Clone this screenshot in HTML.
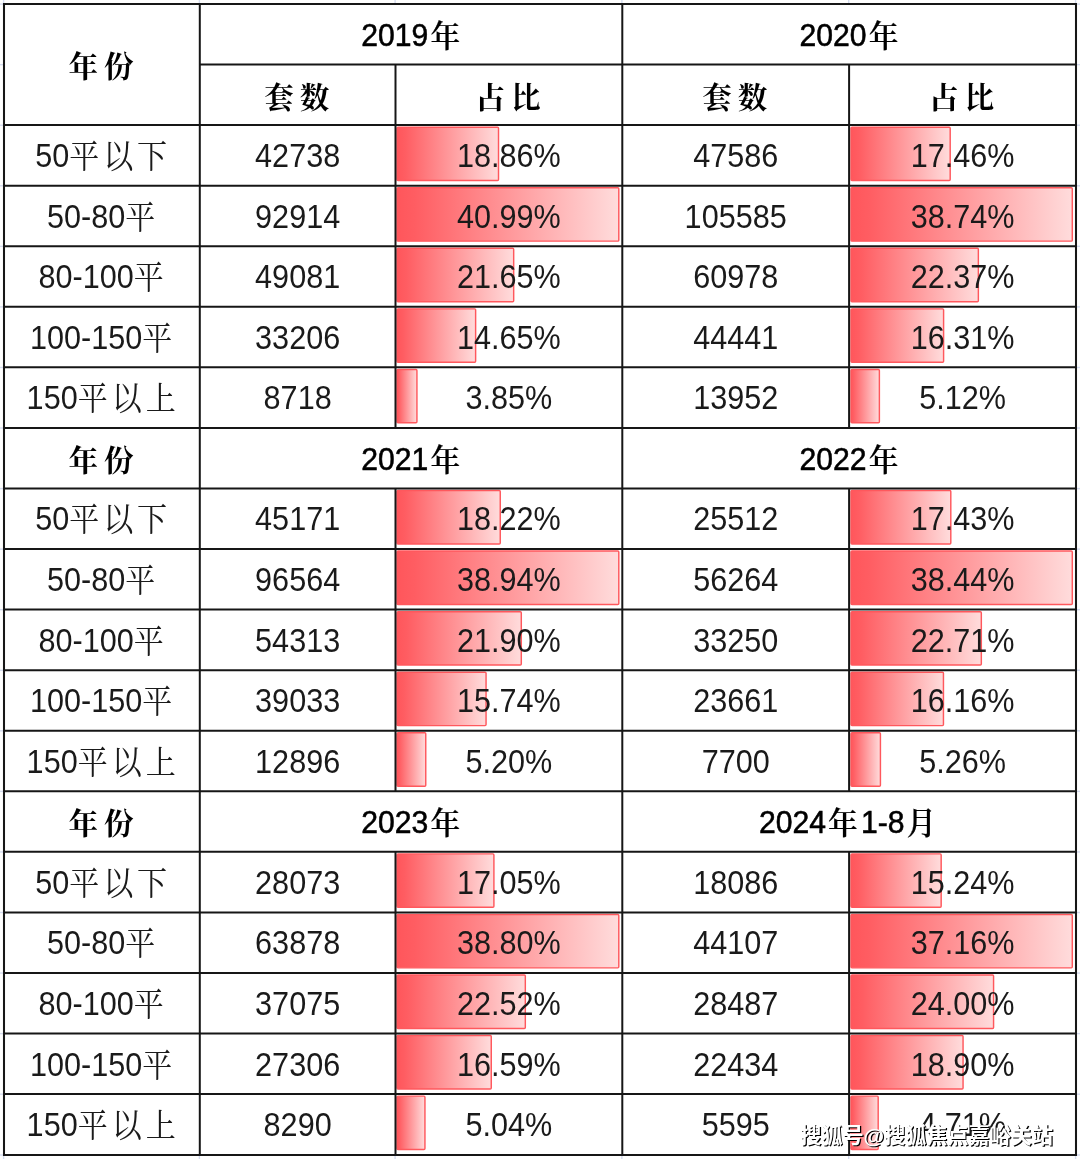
<!DOCTYPE html>
<html lang="zh-CN"><head><meta charset="utf-8"><title>面积段成交套数占比</title>
<style>
html,body{margin:0;padding:0;background:#fff;}
body{width:1080px;height:1159px;overflow:hidden;position:relative;}
svg{display:block;position:absolute;left:0;top:0;}
.b{font-family:"Liberation Sans", "Noto Serif CJK SC", sans-serif;font-size:33px;fill:#1a1a1a;}
.cb{font-size:32.4px;letter-spacing:4.2px;}
.ch{font-size:31px;letter-spacing:3.2px;font-weight:600;stroke-width:0.2px;}
.h{font-family:"Liberation Sans", "Noto Serif CJK SC", serif;font-size:31.4px;font-weight:400;fill:#000;stroke:#000;stroke-width:0.55px;}
.hc{font-family:"Liberation Sans", "Noto Serif CJK SC", serif;font-size:29.6px;font-weight:700;fill:#000;letter-spacing:5.9px;}
.wm{font-family:"Liberation Sans", "Noto Sans CJK SC", sans-serif;font-size:21.1px;font-weight:700;fill:#fff;}
.wms{font-family:"Liberation Sans", "Noto Sans CJK SC", sans-serif;font-size:21.1px;font-weight:700;fill:#000;}
.g line{stroke:#161616;stroke-width:2;}
.t line{stroke:#d5dcef;stroke-width:1.4;}
</style></head><body>
<svg width="1080" height="1159" viewBox="0 0 1080 1159">
<defs><linearGradient id="rg" x1="0" y1="0" x2="1" y2="0"><stop offset="0" stop-color="#ff565b"/><stop offset="0.08" stop-color="#ff5d62"/><stop offset="1" stop-color="#ffdcdc"/></linearGradient></defs>
<rect x="0" y="0" width="1080" height="1159" fill="#fff"/>
<g class="t">
<line x1="0" y1="4.10" x2="3" y2="4.10"/>
<line x1="1077" y1="4.10" x2="1080" y2="4.10"/>
<line x1="0" y1="64.66" x2="3" y2="64.66"/>
<line x1="1077" y1="64.66" x2="1080" y2="64.66"/>
<line x1="0" y1="125.22" x2="3" y2="125.22"/>
<line x1="1077" y1="125.22" x2="1080" y2="125.22"/>
<line x1="0" y1="185.78" x2="3" y2="185.78"/>
<line x1="1077" y1="185.78" x2="1080" y2="185.78"/>
<line x1="0" y1="246.34" x2="3" y2="246.34"/>
<line x1="1077" y1="246.34" x2="1080" y2="246.34"/>
<line x1="0" y1="306.90" x2="3" y2="306.90"/>
<line x1="1077" y1="306.90" x2="1080" y2="306.90"/>
<line x1="0" y1="367.46" x2="3" y2="367.46"/>
<line x1="1077" y1="367.46" x2="1080" y2="367.46"/>
<line x1="0" y1="428.02" x2="3" y2="428.02"/>
<line x1="1077" y1="428.02" x2="1080" y2="428.02"/>
<line x1="0" y1="488.58" x2="3" y2="488.58"/>
<line x1="1077" y1="488.58" x2="1080" y2="488.58"/>
<line x1="0" y1="549.14" x2="3" y2="549.14"/>
<line x1="1077" y1="549.14" x2="1080" y2="549.14"/>
<line x1="0" y1="609.70" x2="3" y2="609.70"/>
<line x1="1077" y1="609.70" x2="1080" y2="609.70"/>
<line x1="0" y1="670.26" x2="3" y2="670.26"/>
<line x1="1077" y1="670.26" x2="1080" y2="670.26"/>
<line x1="0" y1="730.82" x2="3" y2="730.82"/>
<line x1="1077" y1="730.82" x2="1080" y2="730.82"/>
<line x1="0" y1="791.38" x2="3" y2="791.38"/>
<line x1="1077" y1="791.38" x2="1080" y2="791.38"/>
<line x1="0" y1="851.94" x2="3" y2="851.94"/>
<line x1="1077" y1="851.94" x2="1080" y2="851.94"/>
<line x1="0" y1="912.50" x2="3" y2="912.50"/>
<line x1="1077" y1="912.50" x2="1080" y2="912.50"/>
<line x1="0" y1="973.06" x2="3" y2="973.06"/>
<line x1="1077" y1="973.06" x2="1080" y2="973.06"/>
<line x1="0" y1="1033.62" x2="3" y2="1033.62"/>
<line x1="1077" y1="1033.62" x2="1080" y2="1033.62"/>
<line x1="0" y1="1094.18" x2="3" y2="1094.18"/>
<line x1="1077" y1="1094.18" x2="1080" y2="1094.18"/>
<line x1="0" y1="1155.00" x2="3" y2="1155.00"/>
<line x1="1077" y1="1155.00" x2="1080" y2="1155.00"/>
<line x1="3.60" y1="0" x2="3.60" y2="3"/>
<line x1="3.60" y1="1156" x2="3.60" y2="1159"/>
<line x1="199.40" y1="0" x2="199.40" y2="3"/>
<line x1="199.40" y1="1156" x2="199.40" y2="1159"/>
<line x1="395.10" y1="0" x2="395.10" y2="3"/>
<line x1="395.10" y1="1156" x2="395.10" y2="1159"/>
<line x1="621.90" y1="0" x2="621.90" y2="3"/>
<line x1="621.90" y1="1156" x2="621.90" y2="1159"/>
<line x1="848.70" y1="0" x2="848.70" y2="3"/>
<line x1="848.70" y1="1156" x2="848.70" y2="1159"/>
<line x1="1075.60" y1="0" x2="1075.60" y2="3"/>
<line x1="1075.60" y1="1156" x2="1075.60" y2="1159"/>
</g>
<rect x="397.00" y="127.17" width="101.51" height="53.40" fill="url(#rg)" stroke="#ff585d" stroke-width="1.45" rx="1" ry="1"/>
<rect x="851.00" y="127.17" width="99.19" height="53.40" fill="url(#rg)" stroke="#ff585d" stroke-width="1.45" rx="1" ry="1"/>
<rect x="397.00" y="187.73" width="221.80" height="53.40" fill="url(#rg)" stroke="#ff585d" stroke-width="1.45" rx="1" ry="1"/>
<rect x="851.00" y="187.73" width="221.30" height="53.40" fill="url(#rg)" stroke="#ff585d" stroke-width="1.45" rx="1" ry="1"/>
<rect x="397.00" y="248.29" width="116.68" height="53.40" fill="url(#rg)" stroke="#ff585d" stroke-width="1.45" rx="1" ry="1"/>
<rect x="851.00" y="248.29" width="127.36" height="53.40" fill="url(#rg)" stroke="#ff585d" stroke-width="1.45" rx="1" ry="1"/>
<rect x="397.00" y="308.85" width="78.63" height="53.40" fill="url(#rg)" stroke="#ff585d" stroke-width="1.45" rx="1" ry="1"/>
<rect x="851.00" y="308.85" width="92.59" height="53.40" fill="url(#rg)" stroke="#ff585d" stroke-width="1.45" rx="1" ry="1"/>
<rect x="397.00" y="369.41" width="19.93" height="53.40" fill="url(#rg)" stroke="#ff585d" stroke-width="1.45" rx="1" ry="1"/>
<rect x="851.00" y="369.41" width="28.38" height="53.40" fill="url(#rg)" stroke="#ff585d" stroke-width="1.45" rx="1" ry="1"/>
<rect x="397.00" y="490.53" width="103.25" height="53.40" fill="url(#rg)" stroke="#ff585d" stroke-width="1.45" rx="1" ry="1"/>
<rect x="851.00" y="490.53" width="99.80" height="53.40" fill="url(#rg)" stroke="#ff585d" stroke-width="1.45" rx="1" ry="1"/>
<rect x="397.00" y="551.09" width="221.80" height="53.40" fill="url(#rg)" stroke="#ff585d" stroke-width="1.45" rx="1" ry="1"/>
<rect x="851.00" y="551.09" width="221.30" height="53.40" fill="url(#rg)" stroke="#ff585d" stroke-width="1.45" rx="1" ry="1"/>
<rect x="397.00" y="611.65" width="124.30" height="53.40" fill="url(#rg)" stroke="#ff585d" stroke-width="1.45" rx="1" ry="1"/>
<rect x="851.00" y="611.65" width="130.33" height="53.40" fill="url(#rg)" stroke="#ff585d" stroke-width="1.45" rx="1" ry="1"/>
<rect x="397.00" y="672.21" width="89.06" height="53.40" fill="url(#rg)" stroke="#ff585d" stroke-width="1.45" rx="1" ry="1"/>
<rect x="851.00" y="672.21" width="92.45" height="53.40" fill="url(#rg)" stroke="#ff585d" stroke-width="1.45" rx="1" ry="1"/>
<rect x="397.00" y="732.77" width="28.75" height="53.40" fill="url(#rg)" stroke="#ff585d" stroke-width="1.45" rx="1" ry="1"/>
<rect x="851.00" y="732.77" width="29.42" height="53.40" fill="url(#rg)" stroke="#ff585d" stroke-width="1.45" rx="1" ry="1"/>
<rect x="397.00" y="853.89" width="96.91" height="53.40" fill="url(#rg)" stroke="#ff585d" stroke-width="1.45" rx="1" ry="1"/>
<rect x="851.00" y="853.89" width="90.17" height="53.40" fill="url(#rg)" stroke="#ff585d" stroke-width="1.45" rx="1" ry="1"/>
<rect x="397.00" y="914.45" width="221.80" height="53.40" fill="url(#rg)" stroke="#ff585d" stroke-width="1.45" rx="1" ry="1"/>
<rect x="851.00" y="914.45" width="221.30" height="53.40" fill="url(#rg)" stroke="#ff585d" stroke-width="1.45" rx="1" ry="1"/>
<rect x="397.00" y="975.01" width="128.32" height="53.40" fill="url(#rg)" stroke="#ff585d" stroke-width="1.45" rx="1" ry="1"/>
<rect x="851.00" y="975.01" width="142.57" height="53.40" fill="url(#rg)" stroke="#ff585d" stroke-width="1.45" rx="1" ry="1"/>
<rect x="397.00" y="1035.57" width="94.26" height="53.40" fill="url(#rg)" stroke="#ff585d" stroke-width="1.45" rx="1" ry="1"/>
<rect x="851.00" y="1035.57" width="112.06" height="53.40" fill="url(#rg)" stroke="#ff585d" stroke-width="1.45" rx="1" ry="1"/>
<rect x="397.00" y="1096.13" width="27.94" height="53.40" fill="url(#rg)" stroke="#ff585d" stroke-width="1.45" rx="1" ry="1"/>
<rect x="851.00" y="1096.13" width="27.18" height="53.40" fill="url(#rg)" stroke="#ff585d" stroke-width="1.45" rx="1" ry="1"/>
<g class="g">
<line x1="3.00" y1="4.00" x2="1077.00" y2="4.00" style="stroke-width:2.05"/>
<line x1="199.80" y1="64.56" x2="1077.00" y2="64.56"/>
<line x1="3.00" y1="125.12" x2="1077.00" y2="125.12"/>
<line x1="3.00" y1="185.68" x2="1077.00" y2="185.68"/>
<line x1="3.00" y1="246.24" x2="1077.00" y2="246.24"/>
<line x1="3.00" y1="306.80" x2="1077.00" y2="306.80"/>
<line x1="3.00" y1="367.36" x2="1077.00" y2="367.36"/>
<line x1="3.00" y1="427.92" x2="1077.00" y2="427.92"/>
<line x1="3.00" y1="488.48" x2="1077.00" y2="488.48"/>
<line x1="3.00" y1="549.04" x2="1077.00" y2="549.04"/>
<line x1="3.00" y1="609.60" x2="1077.00" y2="609.60"/>
<line x1="3.00" y1="670.16" x2="1077.00" y2="670.16"/>
<line x1="3.00" y1="730.72" x2="1077.00" y2="730.72"/>
<line x1="3.00" y1="791.28" x2="1077.00" y2="791.28"/>
<line x1="3.00" y1="851.84" x2="1077.00" y2="851.84"/>
<line x1="3.00" y1="912.40" x2="1077.00" y2="912.40"/>
<line x1="3.00" y1="972.96" x2="1077.00" y2="972.96"/>
<line x1="3.00" y1="1033.52" x2="1077.00" y2="1033.52"/>
<line x1="3.00" y1="1094.08" x2="1077.00" y2="1094.08"/>
<line x1="3.00" y1="1154.90" x2="1077.00" y2="1154.90" style="stroke-width:2.05"/>
<line x1="4.00" y1="3.00" x2="4.00" y2="1155.90" style="stroke-width:2.05"/>
<line x1="199.80" y1="3.00" x2="199.80" y2="1155.90"/>
<line x1="622.30" y1="3.00" x2="622.30" y2="1155.90"/>
<line x1="1076.00" y1="3.00" x2="1076.00" y2="1155.90" style="stroke-width:2.05"/>
<line x1="395.50" y1="64.56" x2="395.50" y2="125.12"/>
<line x1="849.10" y1="64.56" x2="849.10" y2="125.12"/>
<line x1="395.50" y1="125.12" x2="395.50" y2="427.92"/>
<line x1="849.10" y1="125.12" x2="849.10" y2="427.92"/>
<line x1="395.50" y1="488.48" x2="395.50" y2="791.28"/>
<line x1="849.10" y1="488.48" x2="849.10" y2="791.28"/>
<line x1="395.50" y1="851.84" x2="395.50" y2="1154.90"/>
<line x1="849.10" y1="851.84" x2="849.10" y2="1154.90"/>
</g>
<text class="hc" transform="translate(103.90 77.36) scale(1.000 1)" text-anchor="middle">年份</text>
<text class="h" transform="translate(412.25 45.88) scale(0.960 1)" text-anchor="middle">2019<tspan class="ch" dx="2.2" dy="1">年</tspan></text>
<text class="h" transform="translate(850.55 45.88) scale(0.960 1)" text-anchor="middle">2020<tspan class="ch" dx="2.2" dy="1">年</tspan></text>
<text class="hc" transform="translate(299.65 107.64) scale(1.000 1)" text-anchor="middle">套数</text>
<text class="hc" transform="translate(510.90 107.64) scale(1.000 1)" text-anchor="middle">占比</text>
<text class="hc" transform="translate(737.70 107.64) scale(1.000 1)" text-anchor="middle">套数</text>
<text class="hc" transform="translate(964.55 107.64) scale(1.000 1)" text-anchor="middle">占比</text>
<text class="b" transform="translate(103.10 167.10) scale(0.928 1)" text-anchor="middle">50<tspan class="cb" dy="1">平以下</tspan></text>
<text class="b" transform="translate(297.65 167.10) scale(0.928 1)" text-anchor="middle">42738</text>
<text class="b" transform="translate(508.90 167.10) scale(0.928 1)" text-anchor="middle">18.86%</text>
<text class="b" transform="translate(735.70 167.10) scale(0.928 1)" text-anchor="middle">47586</text>
<text class="b" transform="translate(962.55 167.10) scale(0.928 1)" text-anchor="middle">17.46%</text>
<text class="b" transform="translate(103.10 227.66) scale(0.928 1)" text-anchor="middle">50-80<tspan class="cb" dy="1">平</tspan></text>
<text class="b" transform="translate(297.65 227.66) scale(0.928 1)" text-anchor="middle">92914</text>
<text class="b" transform="translate(508.90 227.66) scale(0.928 1)" text-anchor="middle">40.99%</text>
<text class="b" transform="translate(735.70 227.66) scale(0.928 1)" text-anchor="middle">105585</text>
<text class="b" transform="translate(962.55 227.66) scale(0.928 1)" text-anchor="middle">38.74%</text>
<text class="b" transform="translate(103.10 288.22) scale(0.928 1)" text-anchor="middle">80-100<tspan class="cb" dy="1">平</tspan></text>
<text class="b" transform="translate(297.65 288.22) scale(0.928 1)" text-anchor="middle">49081</text>
<text class="b" transform="translate(508.90 288.22) scale(0.928 1)" text-anchor="middle">21.65%</text>
<text class="b" transform="translate(735.70 288.22) scale(0.928 1)" text-anchor="middle">60978</text>
<text class="b" transform="translate(962.55 288.22) scale(0.928 1)" text-anchor="middle">22.37%</text>
<text class="b" transform="translate(103.10 348.78) scale(0.928 1)" text-anchor="middle">100-150<tspan class="cb" dy="1">平</tspan></text>
<text class="b" transform="translate(297.65 348.78) scale(0.928 1)" text-anchor="middle">33206</text>
<text class="b" transform="translate(508.90 348.78) scale(0.928 1)" text-anchor="middle">14.65%</text>
<text class="b" transform="translate(735.70 348.78) scale(0.928 1)" text-anchor="middle">44441</text>
<text class="b" transform="translate(962.55 348.78) scale(0.928 1)" text-anchor="middle">16.31%</text>
<text class="b" transform="translate(103.10 409.34) scale(0.928 1)" text-anchor="middle">150<tspan class="cb" dy="1">平以上</tspan></text>
<text class="b" transform="translate(297.65 409.34) scale(0.928 1)" text-anchor="middle">8718</text>
<text class="b" transform="translate(508.90 409.34) scale(0.928 1)" text-anchor="middle">3.85%</text>
<text class="b" transform="translate(735.70 409.34) scale(0.928 1)" text-anchor="middle">13952</text>
<text class="b" transform="translate(962.55 409.34) scale(0.928 1)" text-anchor="middle">5.12%</text>
<text class="hc" transform="translate(103.90 471.00) scale(1.000 1)" text-anchor="middle">年份</text>
<text class="h" transform="translate(412.25 469.80) scale(0.960 1)" text-anchor="middle">2021<tspan class="ch" dx="2.2" dy="1">年</tspan></text>
<text class="h" transform="translate(850.55 469.80) scale(0.960 1)" text-anchor="middle">2022<tspan class="ch" dx="2.2" dy="1">年</tspan></text>
<text class="b" transform="translate(103.10 530.46) scale(0.928 1)" text-anchor="middle">50<tspan class="cb" dy="1">平以下</tspan></text>
<text class="b" transform="translate(297.65 530.46) scale(0.928 1)" text-anchor="middle">45171</text>
<text class="b" transform="translate(508.90 530.46) scale(0.928 1)" text-anchor="middle">18.22%</text>
<text class="b" transform="translate(735.70 530.46) scale(0.928 1)" text-anchor="middle">25512</text>
<text class="b" transform="translate(962.55 530.46) scale(0.928 1)" text-anchor="middle">17.43%</text>
<text class="b" transform="translate(103.10 591.02) scale(0.928 1)" text-anchor="middle">50-80<tspan class="cb" dy="1">平</tspan></text>
<text class="b" transform="translate(297.65 591.02) scale(0.928 1)" text-anchor="middle">96564</text>
<text class="b" transform="translate(508.90 591.02) scale(0.928 1)" text-anchor="middle">38.94%</text>
<text class="b" transform="translate(735.70 591.02) scale(0.928 1)" text-anchor="middle">56264</text>
<text class="b" transform="translate(962.55 591.02) scale(0.928 1)" text-anchor="middle">38.44%</text>
<text class="b" transform="translate(103.10 651.58) scale(0.928 1)" text-anchor="middle">80-100<tspan class="cb" dy="1">平</tspan></text>
<text class="b" transform="translate(297.65 651.58) scale(0.928 1)" text-anchor="middle">54313</text>
<text class="b" transform="translate(508.90 651.58) scale(0.928 1)" text-anchor="middle">21.90%</text>
<text class="b" transform="translate(735.70 651.58) scale(0.928 1)" text-anchor="middle">33250</text>
<text class="b" transform="translate(962.55 651.58) scale(0.928 1)" text-anchor="middle">22.71%</text>
<text class="b" transform="translate(103.10 712.14) scale(0.928 1)" text-anchor="middle">100-150<tspan class="cb" dy="1">平</tspan></text>
<text class="b" transform="translate(297.65 712.14) scale(0.928 1)" text-anchor="middle">39033</text>
<text class="b" transform="translate(508.90 712.14) scale(0.928 1)" text-anchor="middle">15.74%</text>
<text class="b" transform="translate(735.70 712.14) scale(0.928 1)" text-anchor="middle">23661</text>
<text class="b" transform="translate(962.55 712.14) scale(0.928 1)" text-anchor="middle">16.16%</text>
<text class="b" transform="translate(103.10 772.70) scale(0.928 1)" text-anchor="middle">150<tspan class="cb" dy="1">平以上</tspan></text>
<text class="b" transform="translate(297.65 772.70) scale(0.928 1)" text-anchor="middle">12896</text>
<text class="b" transform="translate(508.90 772.70) scale(0.928 1)" text-anchor="middle">5.20%</text>
<text class="b" transform="translate(735.70 772.70) scale(0.928 1)" text-anchor="middle">7700</text>
<text class="b" transform="translate(962.55 772.70) scale(0.928 1)" text-anchor="middle">5.26%</text>
<text class="hc" transform="translate(103.90 834.36) scale(1.000 1)" text-anchor="middle">年份</text>
<text class="h" transform="translate(412.25 833.16) scale(0.960 1)" text-anchor="middle">2023<tspan class="ch" dx="2.2" dy="1">年</tspan></text>
<text class="h" transform="translate(849.15 833.16) scale(0.960 1)" text-anchor="middle">2024<tspan class="ch" dx="2.2" dy="1">年</tspan><tspan dy="-1">1-8</tspan><tspan class="ch" dx="2.2" dy="1">月</tspan></text>
<text class="b" transform="translate(103.10 893.82) scale(0.928 1)" text-anchor="middle">50<tspan class="cb" dy="1">平以下</tspan></text>
<text class="b" transform="translate(297.65 893.82) scale(0.928 1)" text-anchor="middle">28073</text>
<text class="b" transform="translate(508.90 893.82) scale(0.928 1)" text-anchor="middle">17.05%</text>
<text class="b" transform="translate(735.70 893.82) scale(0.928 1)" text-anchor="middle">18086</text>
<text class="b" transform="translate(962.55 893.82) scale(0.928 1)" text-anchor="middle">15.24%</text>
<text class="b" transform="translate(103.10 954.38) scale(0.928 1)" text-anchor="middle">50-80<tspan class="cb" dy="1">平</tspan></text>
<text class="b" transform="translate(297.65 954.38) scale(0.928 1)" text-anchor="middle">63878</text>
<text class="b" transform="translate(508.90 954.38) scale(0.928 1)" text-anchor="middle">38.80%</text>
<text class="b" transform="translate(735.70 954.38) scale(0.928 1)" text-anchor="middle">44107</text>
<text class="b" transform="translate(962.55 954.38) scale(0.928 1)" text-anchor="middle">37.16%</text>
<text class="b" transform="translate(103.10 1014.94) scale(0.928 1)" text-anchor="middle">80-100<tspan class="cb" dy="1">平</tspan></text>
<text class="b" transform="translate(297.65 1014.94) scale(0.928 1)" text-anchor="middle">37075</text>
<text class="b" transform="translate(508.90 1014.94) scale(0.928 1)" text-anchor="middle">22.52%</text>
<text class="b" transform="translate(735.70 1014.94) scale(0.928 1)" text-anchor="middle">28487</text>
<text class="b" transform="translate(962.55 1014.94) scale(0.928 1)" text-anchor="middle">24.00%</text>
<text class="b" transform="translate(103.10 1075.50) scale(0.928 1)" text-anchor="middle">100-150<tspan class="cb" dy="1">平</tspan></text>
<text class="b" transform="translate(297.65 1075.50) scale(0.928 1)" text-anchor="middle">27306</text>
<text class="b" transform="translate(508.90 1075.50) scale(0.928 1)" text-anchor="middle">16.59%</text>
<text class="b" transform="translate(735.70 1075.50) scale(0.928 1)" text-anchor="middle">22434</text>
<text class="b" transform="translate(962.55 1075.50) scale(0.928 1)" text-anchor="middle">18.90%</text>
<text class="b" transform="translate(103.10 1136.19) scale(0.928 1)" text-anchor="middle">150<tspan class="cb" dy="1">平以上</tspan></text>
<text class="b" transform="translate(297.65 1136.19) scale(0.928 1)" text-anchor="middle">8290</text>
<text class="b" transform="translate(508.90 1136.19) scale(0.928 1)" text-anchor="middle">5.04%</text>
<text class="b" transform="translate(735.70 1136.19) scale(0.928 1)" text-anchor="middle">5595</text>
<text class="b" transform="translate(962.55 1136.19) scale(0.928 1)" text-anchor="middle">4.71%</text>
<text class="wms" x="927.8" y="1143.9" text-anchor="middle">搜狐号@搜狐焦点嘉峪关站</text>
<text class="wm" x="926.6" y="1142.7" text-anchor="middle">搜狐号@搜狐焦点嘉峪关站</text>
</svg>
</body></html>
